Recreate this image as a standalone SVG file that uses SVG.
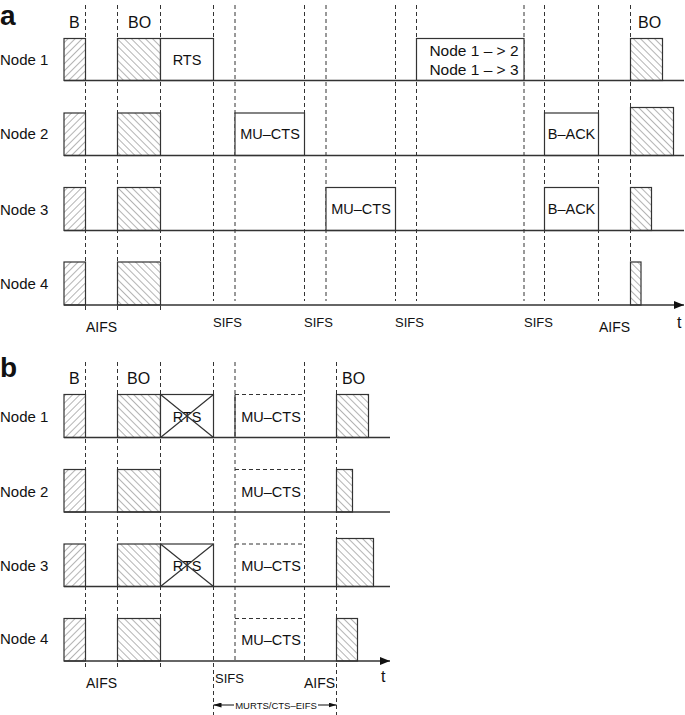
<svg xmlns="http://www.w3.org/2000/svg" width="685" height="715" viewBox="0 0 685 715">
<defs>
<pattern id="hf" width="5" height="5" patternUnits="userSpaceOnUse" patternTransform="rotate(45)"><line x1="0" y1="0" x2="0" y2="5" stroke="#444" stroke-width="0.8"/></pattern>
<pattern id="hb" width="5" height="5" patternUnits="userSpaceOnUse" patternTransform="rotate(-45)"><line x1="0" y1="0" x2="0" y2="5" stroke="#444" stroke-width="0.8"/></pattern>
<marker id="ah" markerWidth="10" markerHeight="8" refX="10" refY="4" orient="auto" markerUnits="userSpaceOnUse"><path d="M0,0 L10,4 L0,8 Z" fill="#111"/></marker>
<marker id="sa" markerWidth="8" markerHeight="5" refX="8" refY="2.5" orient="auto-start-reverse" markerUnits="userSpaceOnUse"><path d="M0,0 L8,2.5 L0,5 Z" fill="#111"/></marker>
</defs>
<style>
text{font-family:"Liberation Sans",Arial,sans-serif;fill:#111}
.lbl{font-size:15px}
.hd{font-size:16px}
.box{font-size:14.5px;text-anchor:middle}
.sm{font-size:13px}
.big{font-size:28px;font-weight:bold}
.b{fill:url(#hf);stroke:#333;stroke-width:1.2}
.o{fill:url(#hb);stroke:#333;stroke-width:1.2}
.f{fill:#fff;stroke:#333;stroke-width:1.2}
.base{stroke:#333;stroke-width:1.3;fill:none}
.d{stroke:#333;stroke-width:1;stroke-dasharray:4,3;fill:none}
.s{stroke:#333;stroke-width:1.2;fill:none}
</style>
<rect width="685" height="715" fill="#fff"/>

<!-- Part a -->
<text class="big" x="0" y="25">a</text>
<text class="hd" x="69" y="28">B</text>
<text class="hd" x="128" y="28">BO</text>
<text class="hd" x="638" y="28">BO</text>

<g id="a-dashed">
<path class="d" d="M85.5,5V310M117.5,5V310M160.5,5V310M213.5,5V301M235,5V301M304.5,5V301M326,5V301M395.5,5V301M416.5,5V301M524,5V301M544.5,5V301M598.5,5V301M630.5,5V305"/>
</g>

<g id="a-node1">
<text class="lbl" x="0" y="65">Node 1</text>
<rect class="b" x="64" y="38.5" width="21.5" height="42"/>
<rect class="o" x="117.5" y="38.5" width="43" height="42"/>
<rect class="f" x="160.5" y="38.5" width="53" height="42"/>
<text class="box" x="187" y="65">RTS</text>
<rect class="f" x="416.5" y="38.5" width="107.5" height="42"/>
<text class="box" x="474" y="56" style="font-size:15.5px">Node 1 – &gt; 2</text>
<text class="box" x="474" y="75" style="font-size:15.5px">Node 1 – &gt; 3</text>
<rect class="o" x="630.5" y="38.5" width="32" height="42"/>
<line class="base" x1="64" y1="80.5" x2="684" y2="80.5"/>
</g>

<g id="a-node2">
<text class="lbl" x="0" y="139">Node 2</text>
<rect class="b" x="64" y="113" width="21.5" height="42.5"/>
<rect class="o" x="117.5" y="113" width="43" height="42.5"/>
<rect class="f" x="235" y="113" width="69.5" height="42.5"/>
<text class="box" x="270" y="139">MU–CTS</text>
<rect class="f" x="544.5" y="113" width="54" height="42.5"/>
<text class="box" x="571.5" y="139">B–ACK</text>
<rect class="o" x="630.5" y="107.5" width="43" height="48"/>
<line class="base" x1="64" y1="155.5" x2="684" y2="155.5"/>
</g>

<g id="a-node3">
<text class="lbl" x="0" y="215">Node 3</text>
<rect class="b" x="64" y="187.5" width="21.5" height="43"/>
<rect class="o" x="117.5" y="187.5" width="43" height="43"/>
<rect class="f" x="326" y="187.5" width="69.5" height="43"/>
<text class="box" x="361" y="214">MU–CTS</text>
<rect class="f" x="544.5" y="187.5" width="54" height="43"/>
<text class="box" x="571.5" y="214">B–ACK</text>
<rect class="o" x="630.5" y="187.5" width="21" height="43"/>
<line class="base" x1="64" y1="230.5" x2="684" y2="230.5"/>
</g>

<g id="a-node4">
<text class="lbl" x="0" y="289">Node 4</text>
<rect class="b" x="64" y="262" width="21.5" height="43"/>
<rect class="o" x="117.5" y="262" width="43" height="43"/>
<rect class="o" x="630.5" y="262" width="10.5" height="43"/>
</g>

<g id="a-axis">
<line class="base" x1="64" y1="305" x2="684" y2="305" marker-end="url(#ah)"/>
<text class="hd" x="677" y="328">t</text>
<text class="lbl" x="86" y="332" style="font-size:14px">AIFS</text>
<text class="sm" x="213" y="327">SIFS</text>
<text class="sm" x="304" y="327">SIFS</text>
<text class="sm" x="395" y="327">SIFS</text>
<text class="sm" x="524" y="327">SIFS</text>
<text class="lbl" x="599" y="332" style="font-size:14px">AIFS</text>
</g>

<!-- Part b -->
<text class="big" x="0" y="377">b</text>
<text class="hd" x="69" y="384">B</text>
<text class="hd" x="127" y="384">BO</text>
<text class="hd" x="342" y="384">BO</text>

<g id="b-dashed">
<path class="d" d="M85.5,362V667M117.5,362V667M160.5,362V667M213.5,362V715M235,362V661M304.5,362V661M336.5,362V715"/>
</g>

<g id="b-node1">
<text class="lbl" x="0" y="422">Node 1</text>
<rect class="b" x="64" y="394.5" width="21.5" height="43"/>
<rect class="o" x="117.5" y="394.5" width="43" height="43"/>
<rect class="f" x="160.5" y="394.5" width="53" height="43"/>
<text class="box" x="187" y="422">RTS</text>
<path class="s" d="M160.5,394.5L213.5,437.5M213.5,394.5L160.5,437.5"/>
<line class="s" x1="235" y1="394.5" x2="235" y2="437.5"/>
<line class="d" x1="235" y1="394.5" x2="304.5" y2="394.5"/>
<text class="box" x="271" y="422">MU–CTS</text>
<rect class="o" x="336.5" y="394.5" width="32" height="43"/>
<line class="base" x1="64" y1="437.5" x2="390" y2="437.5"/>
</g>

<g id="b-node2">
<text class="lbl" x="0" y="497">Node 2</text>
<rect class="b" x="64" y="469.5" width="21.5" height="42.5"/>
<rect class="o" x="117.5" y="469.5" width="43" height="42.5"/>
<line class="d" x1="235" y1="469.5" x2="304.5" y2="469.5"/>
<text class="box" x="271" y="497">MU–CTS</text>
<rect class="o" x="336.5" y="469.5" width="16" height="42.5"/>
<line class="base" x1="64" y1="512" x2="390" y2="512"/>
</g>

<g id="b-node3">
<text class="lbl" x="0" y="571">Node 3</text>
<rect class="b" x="64" y="544" width="21.5" height="42.5"/>
<rect class="o" x="117.5" y="544" width="43" height="42.5"/>
<rect class="f" x="160.5" y="544" width="53" height="42.5"/>
<text class="box" x="187" y="571">RTS</text>
<path class="s" d="M160.5,544L213.5,586.5M213.5,544L160.5,586.5"/>
<line class="d" x1="235" y1="544" x2="304.5" y2="544"/>
<text class="box" x="271" y="571">MU–CTS</text>
<rect class="o" x="336.5" y="538.5" width="37" height="48"/>
<line class="base" x1="64" y1="586.5" x2="390" y2="586.5"/>
</g>

<g id="b-node4">
<text class="lbl" x="0" y="644">Node 4</text>
<rect class="b" x="64" y="618.5" width="21.5" height="42.5"/>
<rect class="o" x="117.5" y="618.5" width="43" height="42.5"/>
<line class="d" x1="235" y1="618.5" x2="304.5" y2="618.5"/>
<text class="box" x="271" y="645">MU–CTS</text>
<rect class="o" x="336.5" y="618.5" width="21" height="42.5"/>
</g>

<g id="b-axis">
<line class="base" x1="64" y1="661" x2="390" y2="661" marker-end="url(#ah)"/>
<text class="hd" x="381" y="682">t</text>
<text class="lbl" x="86" y="688" style="font-size:14px">AIFS</text>
<text class="sm" x="215" y="683">SIFS</text>
<text class="lbl" x="304" y="688" style="font-size:14px">AIFS</text>
<line class="s" x1="213.5" y1="705" x2="234" y2="705" marker-start="url(#sa)"/>
<line class="s" x1="318" y1="705" x2="336.5" y2="705" marker-end="url(#sa)"/>
<text x="276" y="708.5" style="font-size:9.5px;text-anchor:middle">MURTS/CTS–EIFS</text>
</g>
</svg>
